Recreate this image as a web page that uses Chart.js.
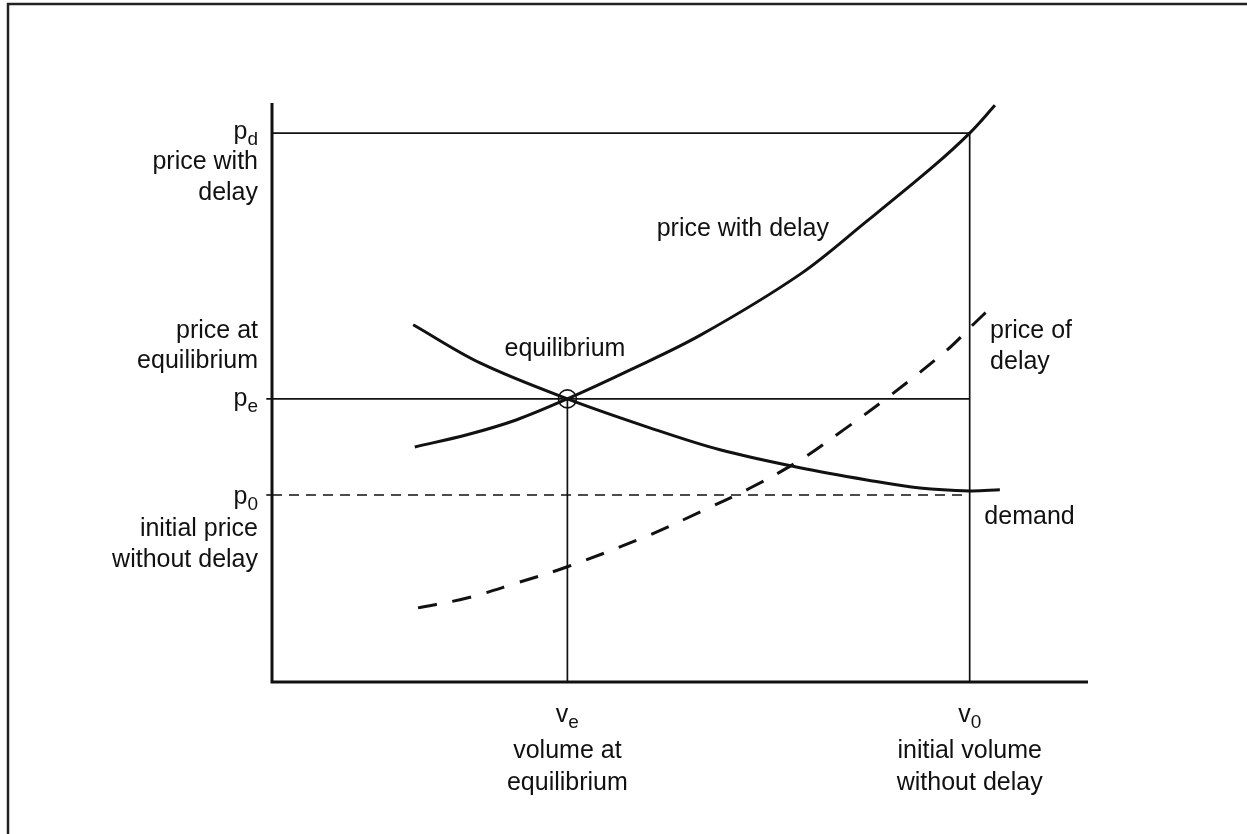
<!DOCTYPE html>
<html>
<head>
<meta charset="utf-8">
<title>Price with delay</title>
<script src="https://cdn.jsdelivr.net/npm/chart.js@4.4.1/dist/chart.umd.min.js"></script>
<style>
  html, body { margin: 0; padding: 0; background: #fff; }
  #wrap { position: relative; width: 1247px; height: 834px; }
</style>
</head>
<body>
<div id="wrap"><canvas id="chart"></canvas></div>
<script>
// key levels, schematic units (both axes run 0..100)
const PD = 94.8;   // price with delay
const PE = 48.9;   // price at equilibrium
const P0 = 32.3;   // initial price without delay
const VE = 36.2;   // volume at equilibrium
const V0 = 85.5;   // initial volume without delay

// curves
const delayX  = [17.5, 23.9, 30.0, 36.2, 43.9, 52.5, 64.7, 72.9, 81.0, 85.5, 88.6];
const delayY  = [40.6, 42.7, 45.3, 48.9, 53.9, 59.9, 70.4, 79.6, 89.0, 94.8, 99.6];
const demandX = [17.3, 25.5, 36.2, 46.3, 54.9, 64.7, 72.9, 79.4, 85.5, 89.2];
const demandY = [61.7, 55.1, 48.9, 43.9, 40.1, 37.0, 34.9, 33.5, 33.0, 33.2];
const costX   = [17.9, 23.9, 30.0, 36.2, 46.3, 52.5, 58.6, 64.7, 70.0, 75.5, 82.7, 85.9, 88.2];
const costY   = [12.8, 14.5, 17.1, 19.9, 25.4, 29.4, 33.5, 38.3, 43.5, 49.2, 57.3, 61.7, 64.8];

// axis captions
const pdText = ['price with', 'delay'];
const peText = ['price at', 'equilibrium'];
const p0Text = ['initial price', 'without delay'];
const veText = ['volume at', 'equilibrium'];
const v0Text = ['initial volume', 'without delay'];

// notes placed next to the curves (data units)
const curveNotes = [
  { text: 'price with delay', x: 57.7, y: 77.0, align: 'center' },
  { text: 'equilibrium', x: 35.9, y: 56.3, align: 'center' },
  { text: 'price of', x: 88.0, y: 59.4, align: 'left' },
  { text: 'delay', x: 88.0, y: 54.1, align: 'left' },
  { text: 'demand', x: 87.3, y: 27.3, align: 'left' },
];

const INK = '#111';
const FONT = '"Liberation Sans", Arial, Helvetica, sans-serif';

function pts(xs, ys) {
  return xs.map((x, i) => ({ x: x, y: ys[i] }));
}

function line(data, width, dash) {
  return {
    data: data,
    borderColor: INK,
    borderWidth: width,
    borderDash: dash || [],
    pointRadius: 0,
    showLine: true,
    fill: false,
    clip: false,
  };
}

function curve(data, width, dash) {
  const ds = line(data, width, dash);
  ds.tension = 0.35;
  return ds;
}

// symbol with subscript, e.g. p_d
function symbol(ctx, base, sub, x, y, align) {
  ctx.font = '25px ' + FONT;
  const wb = ctx.measureText(base).width;
  ctx.font = '19px ' + FONT;
  const ws = ctx.measureText(sub).width;
  let left = x;
  if (align === 'right') left = x - wb - ws;
  else if (align === 'center') left = x - (wb + ws) / 2;
  ctx.textAlign = 'left';
  ctx.font = '25px ' + FONT;
  ctx.fillText(base, left, y);
  ctx.font = '19px ' + FONT;
  ctx.fillText(sub, left + wb, y + 6);
}

const framePlugin = {
  id: 'frame',
  beforeDraw(chart) {
    const ctx = chart.ctx;
    ctx.save();
    ctx.fillStyle = '#fff';
    ctx.fillRect(0, 0, chart.width, chart.height);
    ctx.strokeStyle = '#222';
    ctx.lineWidth = 2.5;
    ctx.beginPath();
    ctx.moveTo(8, chart.height);
    ctx.lineTo(8, 4);
    ctx.lineTo(chart.width, 4);
    ctx.stroke();
    ctx.restore();
  }
};

const labelPlugin = {
  id: 'labels',
  afterDatasetsDraw(chart) {
    const ctx = chart.ctx;
    const xs = chart.scales.x, ys = chart.scales.y;
    const LX = xs.getPixelForValue(0) - 14;
    ctx.save();
    ctx.fillStyle = INK;
    ctx.textBaseline = 'alphabetic';

    // y side
    let py = ys.getPixelForValue(PD);
    symbol(ctx, 'p', 'd', LX, py + 6, 'right');
    ctx.font = '25px ' + FONT;
    ctx.textAlign = 'right';
    pdText.forEach((t, i) => ctx.fillText(t, LX, py + 36 + i * 31));

    py = ys.getPixelForValue(PE);
    symbol(ctx, 'p', 'e', LX, py + 7, 'right');
    ctx.font = '25px ' + FONT;
    ctx.textAlign = 'right';
    peText.forEach((t, i) => ctx.fillText(t, LX, py - 61 + i * 30));

    py = ys.getPixelForValue(P0);
    symbol(ctx, 'p', '0', LX, py + 9, 'right');
    ctx.font = '25px ' + FONT;
    ctx.textAlign = 'right';
    p0Text.forEach((t, i) => ctx.fillText(t, LX, py + 41 + i * 31));

    // x side
    const base = ys.getPixelForValue(0);
    [[VE, 'e', veText], [V0, '0', v0Text]].forEach(([v, s, txt]) => {
      const px = xs.getPixelForValue(v);
      symbol(ctx, 'v', s, px, base + 40, 'center');
      ctx.font = '25px ' + FONT;
      ctx.textAlign = 'center';
      txt.forEach((t, i) => ctx.fillText(t, px, base + 76 + i * 32));
    });

    // curve notes
    ctx.font = '25px ' + FONT;
    curveNotes.forEach(n => {
      ctx.textAlign = n.align;
      ctx.fillText(n.text, xs.getPixelForValue(n.x), ys.getPixelForValue(n.y));
    });
    ctx.restore();
  }
};

const ctx = document.getElementById('chart').getContext('2d');
new Chart(ctx, {
  type: 'scatter',
  data: {
    datasets: [
      line([{ x: 0, y: 100 }, { x: 0, y: 0 }, { x: 100, y: 0 }], 3),
      line([{ x: 0, y: PD }, { x: V0, y: PD }, { x: V0, y: 0 }], 1.7),
      line([{ x: -0.7, y: PE }, { x: V0, y: PE }], 1.7),
      line([{ x: VE, y: PE }, { x: VE, y: 0 }], 1.7),
      line([{ x: 0, y: P0 }, { x: V0, y: P0 }], 1.6, [10, 7]),
      line([{ x: -0.7, y: P0 }, { x: 0, y: P0 }], 1.6),
      curve(pts(delayX, delayY), 3),
      curve(pts(demandX, demandY), 3),
      curve(pts(costX, costY), 3, [19, 16]),
      {
        data: [{ x: VE, y: PE }],
        pointRadius: 9,
        pointBorderWidth: 1.6,
        pointBorderColor: INK,
        pointBackgroundColor: 'rgba(0,0,0,0)',
        showLine: false,
        clip: false,
      },
    ],
  },
  options: {
    responsive: true,
    maintainAspectRatio: false,
    animation: false,
    events: [],
    layout: { padding: { left: 272, right: 159, top: 103, bottom: 152 } },
    scales: {
      x: { type: 'linear', min: 0, max: 100, display: false },
      y: { type: 'linear', min: 0, max: 100, display: false },
    },
    plugins: {
      legend: { display: false },
      tooltip: { enabled: false },
    },
  },
  plugins: [framePlugin, labelPlugin],
});
</script>
</body>
</html>
